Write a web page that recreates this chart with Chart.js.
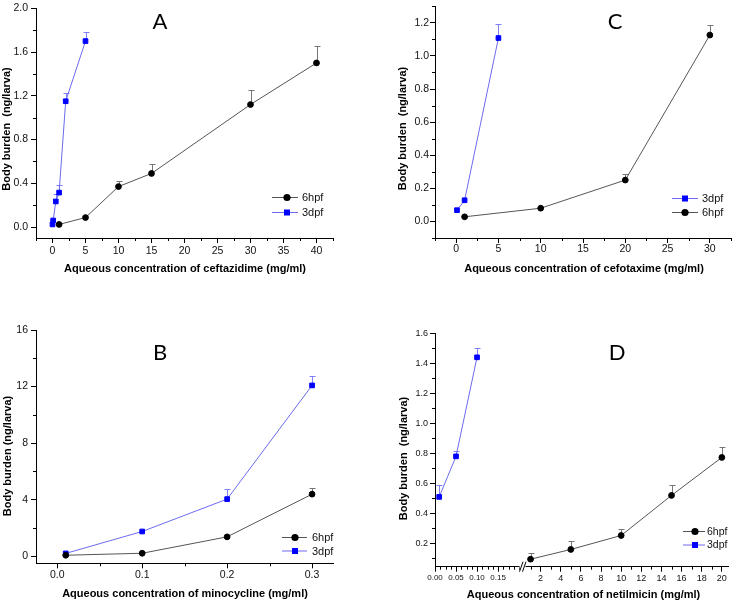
<!DOCTYPE html>
<html>
<head>
<meta charset="utf-8">
<script src="https://cdn.jsdelivr.net/npm/chart.js@4.4.1/dist/chart.umd.min.js"></script>
<style>
  html, body { margin: 0; padding: 0; background: #fff; }
  #wrap { position: relative; width: 736px; height: 603px; overflow: hidden; }
  #wrap canvas { position: absolute; }
</style>
</head>
<body>
<div id="wrap">
  <canvas id="cA" width="368" height="300" style="left:0;top:0"></canvas>
  <canvas id="cC" width="366" height="300" style="left:370px;top:0"></canvas>
  <canvas id="cB" width="368" height="303" style="left:0;top:300px"></canvas>
  <canvas id="cD" width="366" height="303" style="left:370px;top:300px"></canvas>
</div>
<script>
// ===== DATA =====
// A - ceftazidime (mg/ml)
const aX6 = [1, 5, 10, 15, 30, 40]
const aY6 = [0.024, 0.087, 0.37, 0.49, 1.12, 1.50]
const aE6 = [null, null, 0.417, 0.58, 1.255, 1.658]
const aX3 = [0, 0.1, 0.5, 1, 2, 5]
const aY3 = [0.024, 0.06, 0.234, 0.315, 1.15, 1.70]
const aE3 = [null, null, 0.30, 0.38, 1.228, 1.787]
const aTickX = [0, 5, 10, 15, 20, 25, 30, 35, 40]
const aMinX = [-2.5, 2.5, 7.5, 12.5, 17.5, 22.5, 27.5, 32.5, 37.5, 42.5]
const aTickY = [0, 0.4, 0.8, 1.2, 1.6, 2.0]
const aMinY = [0.2, 0.6, 1.0, 1.4, 1.8]

// C - cefotaxime (mg/ml)
const cX3 = [0.1, 1, 5]
const cY3 = [0.068, 0.128, 1.108]
const cE3 = [null, null, 1.192]
const cX6 = [1, 10, 20, 30]
const cY6 = [0.028, 0.08, 0.25, 1.126]
const cE6 = [null, null, 0.286, 1.186]
const cTickX = [0, 5, 10, 15, 20, 25, 30]
const cMinX = [-2.5, 2.5, 7.5, 12.5, 17.5, 22.5, 27.5, 32.5]
const cTickY = [0, 0.2, 0.4, 0.6, 0.8, 1.0, 1.2]
const cMinY = [-0.1, 0.1, 0.3, 0.5, 0.7, 0.9, 1.1, 1.3]

// B - minocycline (mg/ml)
const bX6 = [0.01, 0.1, 0.2, 0.3]
const bY6 = [0.07, 0.21, 1.37, 4.39]
const bE6 = [null, null, null, 4.86]
const bX3 = [0.01, 0.1, 0.2, 0.3]
const bY3 = [0.2, 1.75, 4.04, 12.08]
const bE3 = [null, null, 4.72, 12.75]
const bTickX = [0, 0.1, 0.2, 0.3]
const bMinX = [0.05, 0.15, 0.25]
const bTickY = [0, 4, 8, 12, 16]
const bMinY = [2, 6, 10, 14]

// D - netilmicin (mg/ml), broken x axis
const dX3 = [0.01, 0.05, 0.1]
const dY3 = [0.51, 0.78, 1.44]
const dE3 = [0.59, 0.815, 1.50]
const dX6 = [1, 5, 10, 15, 20]
const dY6 = [0.095, 0.16, 0.253, 0.52, 0.773]
const dE6 = [0.135, 0.215, 0.293, 0.587, 0.84]
const dTickXL = [0, 0.05, 0.10, 0.15]
const dMinXL = [0.0125, 0.025, 0.0375, 0.0625, 0.075, 0.0875, 0.1125, 0.125, 0.1375, 0.1625, 0.175, 0.1875, 0.2]
const dTickXR = [2, 4, 6, 8, 10, 12, 14, 16, 18, 20]
const dMinXR = [1, 3, 5, 7, 9, 11, 13, 15, 17, 19]
const dTickY = [0.2, 0.4, 0.6, 0.8, 1.0, 1.2, 1.4, 1.6]
const dMinY = [0.1, 0.3, 0.5, 0.7, 0.9, 1.1, 1.3, 1.5]

// ===== STYLE =====
const FONT = "'Liberation Sans', Arial, sans-serif"
const BLK = '#000', BLK_LINE = '#555', BLK_ERR = '#777'
const BLU = '#0000ff', BLU_LINE = '#6b6bf0', BLU_ERR = '#8080ff'

function series(label, xs, ys, es, blue, xAxisID) {
  return {
    label, xAxisID: xAxisID || 'x', yAxisID: 'y',
    data: xs.map((x, i) => ({ x, y: ys[i] })),
    err: es, errColor: blue ? BLU_ERR : BLK_ERR,
    borderColor: blue ? BLU_LINE : BLK_LINE, borderWidth: 1,
    pointStyle: blue ? 'rect' : 'circle',
    pointRadius: blue ? 3.3 : 2.9,
    pointBackgroundColor: blue ? BLU : BLK,
    pointBorderColor: blue ? BLU : BLK,
    pointBorderWidth: 1, tension: 0, fill: false, clip: false
  }
}

function axis(pos, min, max, ticks, fmt, size, pad, extra, font) {
  return Object.assign({
    type: 'linear', position: pos, min, max,
    afterBuildTicks: s => { s.ticks = ticks.map(v => ({ value: v })) },
    afterFit: s => { if (pos === 'left') s.width = size; else s.height = size },
    border: { display: true, color: '#000', width: 1 },
    grid: { drawOnChartArea: false, drawTicks: true, tickLength: 5, tickColor: '#000', tickWidth: 1 },
    ticks: { autoSkip: false, maxRotation: 0, padding: pad, color: '#111',
      font: font || { family: FONT, size: 10.5, lineHeight: 1 }, callback: v => fmt(v) },
    title: { display: false }
  }, extra || {})
}

const f0 = v => String(v), f1 = v => v.toFixed(1), f2 = v => v.toFixed(2)

// extra drawing: error bars, minor ticks, legend, panel letter, axis titles, axis break
const annot = {
  id: 'annot',
  beforeDatasetsDraw(chart) {
    const ctx = chart.ctx
    chart.data.datasets.forEach(ds => {
      if (!ds.err) return
      const xs = chart.scales[ds.xAxisID], ys = chart.scales.y
      ctx.save(); ctx.strokeStyle = ds.errColor; ctx.lineWidth = 1
      ds.data.forEach((p, i) => {
        const e = ds.err[i]; if (e == null) return
        const x = Math.round(xs.getPixelForValue(p.x)) + 0.5
        const y0 = ys.getPixelForValue(p.y), y1 = Math.round(ys.getPixelForValue(e)) + 0.5
        ctx.beginPath(); ctx.moveTo(x, y0); ctx.lineTo(x, y1)
        ctx.moveTo(x - 3, y1); ctx.lineTo(x + 3, y1); ctx.stroke()
      })
      ctx.restore()
    })
  },
  afterDraw(chart, args, o) {
    const ctx = chart.ctx
    ctx.save()
    // minor ticks
    ctx.strokeStyle = '#000'; ctx.lineWidth = 1
    Object.entries(o.minor || {}).forEach(([id, vals]) => {
      const s = chart.scales[id]
      vals.forEach(v => {
        const p = Math.round(s.getPixelForValue(v)) + 0.5
        ctx.beginPath()
        if (s.isHorizontal()) { ctx.moveTo(p, s.top); ctx.lineTo(p, s.top + 3) }
        else { ctx.moveTo(s.right - 3, p); ctx.lineTo(s.right, p) }
        ctx.stroke()
      })
    })
    // axis break
    if (o.brk) {
      const b = o.brk
      ctx.fillStyle = '#fff'; ctx.fillRect(b.x1, b.y - 2, b.x2 - b.x1, 4)
      ctx.strokeStyle = '#000'
      ctx.beginPath()
      ctx.moveTo(b.x1, b.y + 5); ctx.lineTo(b.x1 + 3.5, b.y - 5)
      ctx.moveTo(b.x1 + 3, b.y + 5); ctx.lineTo(b.x1 + 6.5, b.y - 5)
      ctx.stroke()
    }
    // legend
    const L = o.legend
    L.rows.forEach(r => {
      const ds = chart.data.datasets.find(d => d.label === r.label)
      ctx.strokeStyle = ds.borderColor; ctx.lineWidth = 1
      ctx.beginPath(); ctx.moveTo(L.x1, r.y + 0.5); ctx.lineTo(L.x2, r.y + 0.5); ctx.stroke()
      ctx.fillStyle = ds.pointBackgroundColor
      if (ds.pointStyle === 'rect') ctx.fillRect(L.mx - 3, r.y - 2.5, 6, 6)
      else { ctx.beginPath(); ctx.arc(L.mx, r.y + 0.5, 3.6, 0, Math.PI * 2); ctx.fill() }
      ctx.fillStyle = '#111'; ctx.font = `${L.size || 11}px ${FONT}`
      ctx.textAlign = 'left'; ctx.textBaseline = 'middle'
      ctx.fillText(r.label, L.tx, r.y + 1)
    })
    // texts
    ctx.fillStyle = '#000'; ctx.textAlign = 'center'; ctx.textBaseline = 'middle'
    ;(o.texts || []).forEach(t => {
      ctx.save(); ctx.translate(t.x, t.y); if (t.rot) ctx.rotate(t.rot)
      ctx.font = t.font; ctx.fillText(t.t, 0, 0); ctx.restore()
    })
    ctx.restore()
  }
}

const TITLE = `bold 11px ${FONT}`
const LETTER = "22px Lato, 'Open Sans', sans-serif"
const D_TICK = { family: FONT, size: 9, lineHeight: 1 }
const D_TICK_S = { family: FONT, size: 8, lineHeight: 1 }

function panel(id, w, h, area, datasets, scales, o) {
  return new Chart(document.getElementById(id), {
    type: 'line',
    data: { datasets },
    options: {
      responsive: false, animation: false, devicePixelRatio: 1,
      layout: { padding: { left: 0, top: area.top, right: w - area.right, bottom: 0 } },
      scales,
      plugins: { legend: { display: false }, tooltip: { enabled: false }, annot: o }
    },
    plugins: [annot]
  })
}

// ===== PANEL A =====
panel('cA', 368, 300, { top: 5, right: 333 }, [
  series('6hpf', aX6, aY6, aE6, false),
  series('3dpf', aX3, aY3, aE3, true)
], {
  x: axis('bottom', -2.5, 42.5, aTickX, f0, 62, 3),
  y: axis('left', -0.1, 2.0, aTickY, f1, 36, 3)
}, {
  minor: { x: aMinX, y: aMinY },
  legend: { x1: 272, x2: 298, mx: 287, tx: 302, rows: [{ label: '6hpf', y: 197 }, { label: '3dpf', y: 212 }] },
  texts: [
    { t: 'A', x: 160, y: 22, font: LETTER },
    { t: 'Body burden  (ng/larva)', x: 6.5, y: 129, rot: -Math.PI / 2, font: TITLE },
    { t: 'Aqueous concentration of ceftazidime (mg/ml)', x: 185, y: 268.5, font: TITLE }
  ]
})

// ===== PANEL C =====
panel('cC', 366, 300, { top: 5, right: 362.7 }, [
  series('3dpf', cX3, cY3, cE3, true),
  series('6hpf', cX6, cY6, cE6, false)
], {
  x: axis('bottom', -2.5, 32.5, cTickX, f0, 62, 1),
  y: axis('left', -0.1, 1.3, cTickY, f1, 65, 1)
}, {
  minor: { x: cMinX, y: cMinY },
  legend: { x1: 302, x2: 328, mx: 315, tx: 332, rows: [{ label: '3dpf', y: 198 }, { label: '6hpf', y: 212 }] },
  texts: [
    { t: 'C', x: 245, y: 22, font: LETTER },
    { t: 'Body burden  (ng/larva)', x: 33, y: 128.5, rot: -Math.PI / 2, font: TITLE },
    { t: 'Aqueous concentration of cefotaxime (mg/ml)', x: 214, y: 268.5, font: TITLE }
  ]
})

// ===== PANEL B =====
panel('cB', 368, 303, { top: 30, right: 333.3 }, [
  series('6hpf', bX6, bY6, bE6, false),
  series('3dpf', bX3, bY3, bE3, true)
], {
  x: axis('bottom', -0.025, 0.325, bTickX, f1, 39.7, 2),
  y: axis('left', -0.5, 16, bTickY, f0, 36, 3)
}, {
  minor: { x: bMinX, y: bMinY },
  legend: { x1: 282, x2: 307, mx: 295, tx: 312, rows: [{ label: '6hpf', y: 237 }, { label: '3dpf', y: 250.5 }] },
  texts: [
    { t: 'B', x: 160, y: 53, font: LETTER },
    { t: 'Body burden (ng/larva)', x: 7.5, y: 156, rot: -Math.PI / 2, font: TITLE },
    { t: 'Aqueous concentration of minocycline (mg/ml)', x: 185, y: 293.5, font: TITLE }
  ]
})

// ===== PANEL D =====
panel('cD', 366, 303, { top: 33.3, right: 358.3 }, [
  series('3dpf', dX3, dY3, dE3, true, 'x'),
  series('6hpf', dX6, dY6, dE6, false, 'x2')
], {
  x: axis('bottom', 0, 0.207, dTickXL, f2, 36.3, 2.5, { stack: 'xs', stackWeight: 87 }, D_TICK_S),
  x2: axis('bottom', 0.15, 20.64, dTickXR, f0, 36.3, 2, { stack: 'xs', stackWeight: 206.3 }, D_TICK),
  y: axis('left', 0.045, 1.6, dTickY, f1, 65, 2, null, D_TICK)
}, {
  minor: { x: dMinXL, x2: dMinXR, y: dMinY },
  brk: { x1: 149.5, x2: 155.5, y: 266.7 },
  legend: { x1: 313, x2: 335, mx: 325, tx: 337, size: 10.5, rows: [{ label: '6hpf', y: 231 }, { label: '3dpf', y: 244.5 }] },
  texts: [
    { t: 'D', x: 247, y: 53, font: LETTER },
    { t: 'Body burden  (ng/larva)', x: 33.5, y: 158.5, rot: -Math.PI / 2, font: TITLE },
    { t: 'Aqueous concentration of netilmicin (mg/ml)', x: 213.5, y: 295, font: TITLE }
  ]
})
</script>
</body>
</html>
